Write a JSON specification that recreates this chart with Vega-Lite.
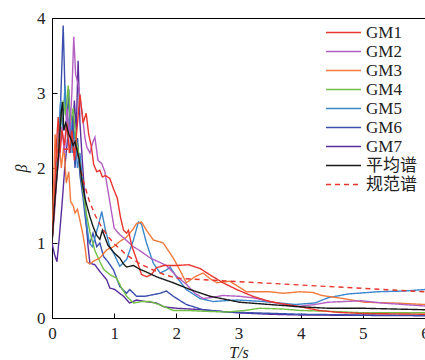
{
"$schema": "https://vega.github.io/schema/vega-lite/v6.json",
"width": 373, "height": 300,
"autosize": {"type": "none"},
"padding": {"left": 52, "top": 18, "right": 0, "bottom": 42},
"config": {
  "view": {"stroke": "#000000", "strokeWidth": 1},
  "font": "Liberation Serif",
  "axis": {"domainColor": "#000000", "tickColor": "#000000", "tickSize": -5, "grid": false, "labelFont": "Liberation Serif", "labelFontSize": 17, "labelColor": "#222222", "titleFont": "Liberation Serif", "titleFontSize": 16, "titleFontWeight": "normal", "titleFontStyle": "italic", "titleColor": "#222222"}
},
"data": {"values": [
{"s":"GM7","T":0,"b":1},{"s":"GM7","T":0.04,"b":0.85},{"s":"GM7","T":0.08,"b":0.75},{"s":"GM7","T":0.12,"b":1.1},{"s":"GM7","T":0.16,"b":1.5},{"s":"GM7","T":0.2,"b":1.95},{"s":"GM7","T":0.24,"b":2.3},{"s":"GM7","T":0.28,"b":2.65},{"s":"GM7","T":0.32,"b":2.3},{"s":"GM7","T":0.36,"b":2.9},{"s":"GM7","T":0.39,"b":2.5},{"s":"GM7","T":0.42,"b":3.43},{"s":"GM7","T":0.45,"b":2.6},{"s":"GM7","T":0.48,"b":2.2},{"s":"GM7","T":0.52,"b":1.7},{"s":"GM7","T":0.55,"b":1.3},{"s":"GM7","T":0.58,"b":0.95},{"s":"GM7","T":0.61,"b":0.73},{"s":"GM7","T":0.69,"b":0.71},{"s":"GM7","T":0.77,"b":0.62},{"s":"GM7","T":0.88,"b":0.51},{"s":"GM7","T":0.93,"b":0.4},{"s":"GM7","T":1.01,"b":0.38},{"s":"GM7","T":1.15,"b":0.29},{"s":"GM7","T":1.25,"b":0.2},{"s":"GM7","T":1.36,"b":0.24},{"s":"GM7","T":1.5,"b":0.22},{"s":"GM7","T":1.68,"b":0.2},{"s":"GM7","T":1.8,"b":0.15},{"s":"GM7","T":2.0,"b":0.13},{"s":"GM7","T":2.43,"b":0.11},{"s":"GM7","T":2.97,"b":0.07},{"s":"GM7","T":3.5,"b":0.05},{"s":"GM7","T":4.0,"b":0.04},{"s":"GM7","T":5.0,"b":0.035},{"s":"GM7","T":6.0,"b":0.03},
{"s":"GM6","T":0,"b":1},{"s":"GM6","T":0.04,"b":1.5},{"s":"GM6","T":0.08,"b":2.0},{"s":"GM6","T":0.11,"b":2.3},{"s":"GM6","T":0.14,"b":2.9},{"s":"GM6","T":0.18,"b":3.9},{"s":"GM6","T":0.21,"b":3.0},{"s":"GM6","T":0.24,"b":2.6},{"s":"GM6","T":0.27,"b":3.05},{"s":"GM6","T":0.3,"b":2.2},{"s":"GM6","T":0.33,"b":2.7},{"s":"GM6","T":0.37,"b":2.0},{"s":"GM6","T":0.41,"b":2.4},{"s":"GM6","T":0.45,"b":1.9},{"s":"GM6","T":0.5,"b":1.6},{"s":"GM6","T":0.54,"b":1.3},{"s":"GM6","T":0.58,"b":1.05},{"s":"GM6","T":0.61,"b":1.0},{"s":"GM6","T":0.66,"b":1.13},{"s":"GM6","T":0.72,"b":0.95},{"s":"GM6","T":0.77,"b":1.0},{"s":"GM6","T":0.83,"b":0.82},{"s":"GM6","T":0.9,"b":0.75},{"s":"GM6","T":0.99,"b":0.64},{"s":"GM6","T":1.09,"b":0.42},{"s":"GM6","T":1.2,"b":0.33},{"s":"GM6","T":1.25,"b":0.38},{"s":"GM6","T":1.36,"b":0.29},{"s":"GM6","T":1.5,"b":0.29},{"s":"GM6","T":1.74,"b":0.33},{"s":"GM6","T":1.84,"b":0.36},{"s":"GM6","T":1.95,"b":0.29},{"s":"GM6","T":2.16,"b":0.18},{"s":"GM6","T":2.43,"b":0.11},{"s":"GM6","T":2.8,"b":0.08},{"s":"GM6","T":3.2,"b":0.07},{"s":"GM6","T":4.0,"b":0.05},{"s":"GM6","T":5.0,"b":0.04},{"s":"GM6","T":6.0,"b":0.035},
{"s":"GM5","T":0,"b":1},{"s":"GM5","T":0.05,"b":1.8},{"s":"GM5","T":0.1,"b":2.4},{"s":"GM5","T":0.14,"b":2.9},{"s":"GM5","T":0.17,"b":2.5},{"s":"GM5","T":0.21,"b":3.1},{"s":"GM5","T":0.25,"b":2.4},{"s":"GM5","T":0.29,"b":2.8},{"s":"GM5","T":0.33,"b":2.2},{"s":"GM5","T":0.37,"b":2.5},{"s":"GM5","T":0.41,"b":2.0},{"s":"GM5","T":0.45,"b":2.2},{"s":"GM5","T":0.5,"b":1.7},{"s":"GM5","T":0.55,"b":1.3},{"s":"GM5","T":0.6,"b":1.0},{"s":"GM5","T":0.65,"b":0.95},{"s":"GM5","T":0.7,"b":1.1},{"s":"GM5","T":0.75,"b":1.25},{"s":"GM5","T":0.8,"b":1.42},{"s":"GM5","T":0.86,"b":1.17},{"s":"GM5","T":0.93,"b":0.95},{"s":"GM5","T":1.0,"b":0.85},{"s":"GM5","T":1.09,"b":0.69},{"s":"GM5","T":1.2,"b":0.78},{"s":"GM5","T":1.31,"b":1.04},{"s":"GM5","T":1.39,"b":1.28},{"s":"GM5","T":1.44,"b":1.25},{"s":"GM5","T":1.52,"b":1.0},{"s":"GM5","T":1.63,"b":0.73},{"s":"GM5","T":1.74,"b":0.6},{"s":"GM5","T":1.84,"b":0.64},{"s":"GM5","T":1.9,"b":0.68},{"s":"GM5","T":2.0,"b":0.55},{"s":"GM5","T":2.16,"b":0.38},{"s":"GM5","T":2.38,"b":0.26},{"s":"GM5","T":2.59,"b":0.22},{"s":"GM5","T":2.97,"b":0.24},{"s":"GM5","T":3.4,"b":0.22},{"s":"GM5","T":3.91,"b":0.18},{"s":"GM5","T":4.23,"b":0.2},{"s":"GM5","T":4.44,"b":0.27},{"s":"GM5","T":4.76,"b":0.32},{"s":"GM5","T":5.24,"b":0.35},{"s":"GM5","T":5.68,"b":0.36},{"s":"GM5","T":6.0,"b":0.38},
{"s":"GM4","T":0,"b":1},{"s":"GM4","T":0.05,"b":1.6},{"s":"GM4","T":0.1,"b":2.2},{"s":"GM4","T":0.14,"b":2.6},{"s":"GM4","T":0.18,"b":2.9},{"s":"GM4","T":0.22,"b":2.7},{"s":"GM4","T":0.26,"b":3.1},{"s":"GM4","T":0.3,"b":2.6},{"s":"GM4","T":0.34,"b":2.8},{"s":"GM4","T":0.38,"b":2.4},{"s":"GM4","T":0.42,"b":2.25},{"s":"GM4","T":0.46,"b":1.95},{"s":"GM4","T":0.5,"b":1.7},{"s":"GM4","T":0.55,"b":1.4},{"s":"GM4","T":0.61,"b":1.15},{"s":"GM4","T":0.69,"b":0.9},{"s":"GM4","T":0.77,"b":0.75},{"s":"GM4","T":0.83,"b":0.65},{"s":"GM4","T":0.93,"b":0.58},{"s":"GM4","T":1.04,"b":0.53},{"s":"GM4","T":1.12,"b":0.4},{"s":"GM4","T":1.2,"b":0.29},{"s":"GM4","T":1.31,"b":0.2},{"s":"GM4","T":1.45,"b":0.22},{"s":"GM4","T":1.58,"b":0.22},{"s":"GM4","T":1.75,"b":0.17},{"s":"GM4","T":1.95,"b":0.1},{"s":"GM4","T":2.2,"b":0.1},{"s":"GM4","T":2.43,"b":0.09},{"s":"GM4","T":2.8,"b":0.08},{"s":"GM4","T":3.1,"b":0.1},{"s":"GM4","T":3.34,"b":0.13},{"s":"GM4","T":3.7,"b":0.12},{"s":"GM4","T":4.0,"b":0.1},{"s":"GM4","T":4.44,"b":0.09},{"s":"GM4","T":5.0,"b":0.07},{"s":"GM4","T":6.0,"b":0.07},
{"s":"GM3","T":0,"b":1},{"s":"GM3","T":0.03,"b":1.9},{"s":"GM3","T":0.05,"b":2.45},{"s":"GM3","T":0.08,"b":2.1},{"s":"GM3","T":0.11,"b":2.4},{"s":"GM3","T":0.15,"b":2.0},{"s":"GM3","T":0.19,"b":2.3},{"s":"GM3","T":0.23,"b":1.8},{"s":"GM3","T":0.27,"b":1.95},{"s":"GM3","T":0.3,"b":1.55},{"s":"GM3","T":0.34,"b":1.5},{"s":"GM3","T":0.37,"b":1.4},{"s":"GM3","T":0.41,"b":1.45},{"s":"GM3","T":0.45,"b":1.3},{"s":"GM3","T":0.5,"b":1.1},{"s":"GM3","T":0.53,"b":0.95},{"s":"GM3","T":0.56,"b":0.75},{"s":"GM3","T":0.61,"b":0.72},{"s":"GM3","T":0.67,"b":0.76},{"s":"GM3","T":0.77,"b":0.8},{"s":"GM3","T":0.88,"b":0.91},{"s":"GM3","T":0.99,"b":0.95},{"s":"GM3","T":1.09,"b":1.02},{"s":"GM3","T":1.2,"b":1.08},{"s":"GM3","T":1.3,"b":1.18},{"s":"GM3","T":1.36,"b":1.26},{"s":"GM3","T":1.44,"b":1.28},{"s":"GM3","T":1.52,"b":1.17},{"s":"GM3","T":1.63,"b":1.04},{"s":"GM3","T":1.79,"b":1.0},{"s":"GM3","T":1.95,"b":0.8},{"s":"GM3","T":2.05,"b":0.65},{"s":"GM3","T":2.16,"b":0.47},{"s":"GM3","T":2.3,"b":0.55},{"s":"GM3","T":2.43,"b":0.6},{"s":"GM3","T":2.55,"b":0.52},{"s":"GM3","T":2.65,"b":0.47},{"s":"GM3","T":2.86,"b":0.49},{"s":"GM3","T":3.13,"b":0.35},{"s":"GM3","T":3.5,"b":0.35},{"s":"GM3","T":3.72,"b":0.33},{"s":"GM3","T":3.99,"b":0.35},{"s":"GM3","T":4.2,"b":0.34},{"s":"GM3","T":4.34,"b":0.3},{"s":"GM3","T":4.6,"b":0.27},{"s":"GM3","T":5.03,"b":0.21},{"s":"GM3","T":5.5,"b":0.2},{"s":"GM3","T":6.0,"b":0.18},
{"s":"GM2","T":0,"b":1},{"s":"GM2","T":0.04,"b":1.4},{"s":"GM2","T":0.08,"b":1.9},{"s":"GM2","T":0.12,"b":2.2},{"s":"GM2","T":0.16,"b":2.55},{"s":"GM2","T":0.2,"b":2.2},{"s":"GM2","T":0.24,"b":2.8},{"s":"GM2","T":0.28,"b":2.4},{"s":"GM2","T":0.32,"b":3.0},{"s":"GM2","T":0.35,"b":3.75},{"s":"GM2","T":0.38,"b":3.25},{"s":"GM2","T":0.42,"b":3.12},{"s":"GM2","T":0.48,"b":2.77},{"s":"GM2","T":0.53,"b":2.4},{"s":"GM2","T":0.56,"b":2.28},{"s":"GM2","T":0.61,"b":2.2},{"s":"GM2","T":0.66,"b":2.35},{"s":"GM2","T":0.69,"b":2.41},{"s":"GM2","T":0.74,"b":2.1},{"s":"GM2","T":0.8,"b":2.06},{"s":"GM2","T":0.85,"b":1.95},{"s":"GM2","T":0.9,"b":1.7},{"s":"GM2","T":0.95,"b":1.45},{"s":"GM2","T":1.0,"b":1.2},{"s":"GM2","T":1.08,"b":1.12},{"s":"GM2","T":1.15,"b":1.07},{"s":"GM2","T":1.31,"b":0.95},{"s":"GM2","T":1.41,"b":0.9},{"s":"GM2","T":1.58,"b":0.8},{"s":"GM2","T":1.84,"b":0.7},{"s":"GM2","T":2.0,"b":0.56},{"s":"GM2","T":2.16,"b":0.45},{"s":"GM2","T":2.3,"b":0.33},{"s":"GM2","T":2.43,"b":0.26},{"s":"GM2","T":2.54,"b":0.27},{"s":"GM2","T":2.75,"b":0.3},{"s":"GM2","T":3.0,"b":0.29},{"s":"GM2","T":3.23,"b":0.27},{"s":"GM2","T":3.5,"b":0.22},{"s":"GM2","T":3.91,"b":0.15},{"s":"GM2","T":4.23,"b":0.18},{"s":"GM2","T":4.44,"b":0.21},{"s":"GM2","T":4.98,"b":0.23},{"s":"GM2","T":5.3,"b":0.2},{"s":"GM2","T":6.0,"b":0.16},
{"s":"GM1","T":0,"b":1},{"s":"GM1","T":0.04,"b":1.6},{"s":"GM1","T":0.07,"b":2.3},{"s":"GM1","T":0.1,"b":2.68},{"s":"GM1","T":0.13,"b":2.2},{"s":"GM1","T":0.16,"b":2.5},{"s":"GM1","T":0.2,"b":2.3},{"s":"GM1","T":0.24,"b":2.6},{"s":"GM1","T":0.28,"b":2.2},{"s":"GM1","T":0.32,"b":2.5},{"s":"GM1","T":0.36,"b":2.1},{"s":"GM1","T":0.41,"b":2.6},{"s":"GM1","T":0.45,"b":2.98},{"s":"GM1","T":0.5,"b":2.6},{"s":"GM1","T":0.55,"b":2.73},{"s":"GM1","T":0.59,"b":2.45},{"s":"GM1","T":0.63,"b":2.3},{"s":"GM1","T":0.67,"b":2.05},{"s":"GM1","T":0.72,"b":1.95},{"s":"GM1","T":0.77,"b":1.97},{"s":"GM1","T":0.81,"b":1.88},{"s":"GM1","T":0.86,"b":1.9},{"s":"GM1","T":0.93,"b":1.86},{"s":"GM1","T":0.99,"b":1.72},{"s":"GM1","T":1.05,"b":1.6},{"s":"GM1","T":1.1,"b":1.35},{"s":"GM1","T":1.15,"b":1.17},{"s":"GM1","T":1.2,"b":1.13},{"s":"GM1","T":1.23,"b":1.17},{"s":"GM1","T":1.28,"b":0.97},{"s":"GM1","T":1.36,"b":0.78},{"s":"GM1","T":1.44,"b":0.58},{"s":"GM1","T":1.52,"b":0.55},{"s":"GM1","T":1.6,"b":0.58},{"s":"GM1","T":1.68,"b":0.67},{"s":"GM1","T":1.8,"b":0.7},{"s":"GM1","T":2.0,"b":0.7},{"s":"GM1","T":2.2,"b":0.71},{"s":"GM1","T":2.38,"b":0.66},{"s":"GM1","T":2.59,"b":0.55},{"s":"GM1","T":2.75,"b":0.47},{"s":"GM1","T":2.97,"b":0.38},{"s":"GM1","T":3.23,"b":0.29},{"s":"GM1","T":3.5,"b":0.22},{"s":"GM1","T":3.99,"b":0.15},{"s":"GM1","T":4.3,"b":0.1},{"s":"GM1","T":4.6,"b":0.075},{"s":"GM1","T":5.0,"b":0.06},{"s":"GM1","T":5.5,"b":0.055},{"s":"GM1","T":6.0,"b":0.05},
{"s":"规范谱","T":0,"b":1.0},{"s":"规范谱","T":0.1,"b":2.25},{"s":"规范谱","T":0.4,"b":2.25},{"s":"规范谱","T":0.45,"b":2.02},{"s":"规范谱","T":0.5,"b":1.84},{"s":"规范谱","T":0.6,"b":1.56},{"s":"规范谱","T":0.7,"b":1.36},{"s":"规范谱","T":0.8,"b":1.21},{"s":"规范谱","T":0.9,"b":1.09},{"s":"规范谱","T":1.0,"b":0.99},{"s":"规范谱","T":1.2,"b":0.84},{"s":"规范谱","T":1.4,"b":0.73},{"s":"规范谱","T":1.6,"b":0.65},{"s":"规范谱","T":1.8,"b":0.58},{"s":"规范谱","T":2.0,"b":0.53},{"s":"规范谱","T":6.0,"b":0.35},
{"s":"平均谱","T":0,"b":1},{"s":"平均谱","T":0.04,"b":1.5},{"s":"平均谱","T":0.08,"b":1.9},{"s":"平均谱","T":0.1,"b":2.1},{"s":"平均谱","T":0.12,"b":2.4},{"s":"平均谱","T":0.15,"b":2.75},{"s":"平均谱","T":0.17,"b":2.88},{"s":"平均谱","T":0.19,"b":2.5},{"s":"平均谱","T":0.22,"b":2.6},{"s":"平均谱","T":0.24,"b":2.55},{"s":"平均谱","T":0.27,"b":2.45},{"s":"平均谱","T":0.3,"b":2.4},{"s":"平均谱","T":0.34,"b":2.3},{"s":"平均谱","T":0.37,"b":2.35},{"s":"平均谱","T":0.4,"b":2.25},{"s":"平均谱","T":0.44,"b":2.1},{"s":"平均谱","T":0.48,"b":1.84},{"s":"平均谱","T":0.53,"b":1.6},{"s":"平均谱","T":0.56,"b":1.5},{"s":"平均谱","T":0.61,"b":1.35},{"s":"平均谱","T":0.66,"b":1.22},{"s":"平均谱","T":0.72,"b":1.1},{"s":"平均谱","T":0.77,"b":1.05},{"s":"平均谱","T":0.81,"b":1.17},{"s":"平均谱","T":0.85,"b":1.08},{"s":"平均谱","T":0.9,"b":0.97},{"s":"平均谱","T":0.95,"b":0.92},{"s":"平均谱","T":1.01,"b":0.86},{"s":"平均谱","T":1.09,"b":0.8},{"s":"平均谱","T":1.15,"b":0.72},{"s":"平均谱","T":1.2,"b":0.68},{"s":"平均谱","T":1.31,"b":0.7},{"s":"平均谱","T":1.41,"b":0.65},{"s":"平均谱","T":1.5,"b":0.62},{"s":"平均谱","T":1.68,"b":0.55},{"s":"平均谱","T":1.95,"b":0.47},{"s":"平均谱","T":2.22,"b":0.38},{"s":"平均谱","T":2.54,"b":0.29},{"s":"平均谱","T":3.02,"b":0.21},{"s":"平均谱","T":3.5,"b":0.18},{"s":"平均谱","T":3.99,"b":0.15},{"s":"平均谱","T":4.44,"b":0.13},{"s":"平均谱","T":5.0,"b":0.13},{"s":"平均谱","T":5.5,"b":0.12},{"s":"平均谱","T":6.0,"b":0.11}
]},
"mark": {"type": "line", "strokeWidth": 1.4, "clip": true},
"encoding": {
  "x": {"field": "T", "type": "quantitative", "scale": {"domain": [0, 6], "nice": false}, "axis": {"values": [0,1,2,3,4,5,6], "title": "T/s", "labelPadding": 12, "titlePadding": 3, "labelFlush": false}},
  "y": {"field": "b", "type": "quantitative", "scale": {"domain": [0, 4], "nice": false}, "axis": {"values": [0,1,2,3,4], "title": "β", "labelPadding": 12, "titlePadding": 7}},
  "order": {"field": "T", "type": "quantitative"},
  "color": {"field": "s", "type": "nominal",
    "scale": {"domain": ["GM1","GM2","GM3","GM4","GM5","GM6","GM7","平均谱","规范谱"], "range": ["#e8352e","#b35fc2","#f27a3d","#72bf44","#3b88cc","#3a4fae","#5a2d9c","#1a1a1a","#e8352e"]},
    "legend": {"title": null, "orient": "none", "legendX": 273, "legendY": 5, "symbolType": "stroke", "symbolSize": 1225, "symbolStrokeWidth": 1.5, "clipHeight": 19, "rowPadding": 0, "labelFont": "Liberation Serif, Noto Sans CJK SC", "labelFontSize": 17, "labelColor": "#222222", "labelOffset": 4, "padding": 0}},
  "strokeDash": {"field": "s", "type": "nominal",
    "scale": {"domain": ["GM1","GM2","GM3","GM4","GM5","GM6","GM7","平均谱","规范谱"], "range": [[1,0],[1,0],[1,0],[1,0],[1,0],[1,0],[1,0],[1,0],[5,4]]},
    "legend": {"title": null, "orient": "none", "legendX": 273, "legendY": 5, "symbolType": "stroke", "symbolSize": 1225, "symbolStrokeWidth": 1.5, "clipHeight": 19, "rowPadding": 0, "labelFont": "Liberation Serif, Noto Sans CJK SC", "labelFontSize": 17, "labelColor": "#222222", "labelOffset": 4, "padding": 0}}
}
}
